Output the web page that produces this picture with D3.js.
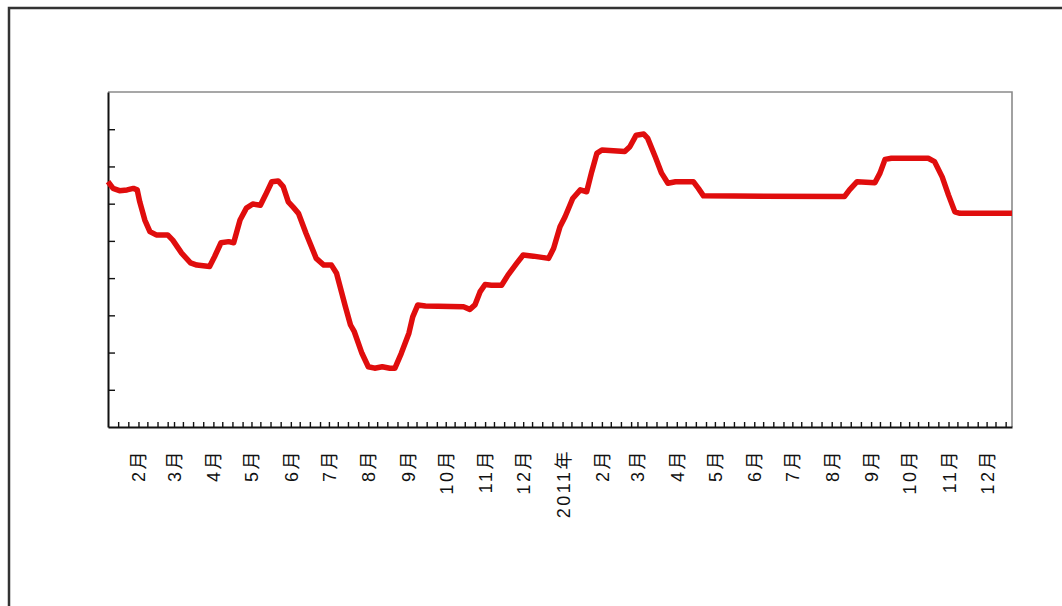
<!DOCTYPE html>
<html>
<head>
<meta charset="utf-8">
<script src="https://cdn.jsdelivr.net/npm/d3@7"></script>
<style>
  html, body { margin: 0; padding: 0; background: #fff; }
  svg { display: block; }
</style>
</head>
<body>
<svg id="chart" width="1062" height="606"></svg>
<script>
// ---- data (y values in chart units, 9 units = full height) ----
const dates = [
  "2010-01-08","2010-01-12","2010-01-17","2010-01-23","2010-01-28","2010-01-31",
  "2010-02-02","2010-02-06","2010-02-10","2010-02-15","2010-02-24","2010-02-28",
  "2010-03-07","2010-03-14","2010-03-19","2010-03-29","2010-04-02","2010-04-07",
  "2010-04-13","2010-04-17","2010-04-22","2010-04-27","2010-05-02","2010-05-08",
  "2010-05-12","2010-05-17","2010-05-22","2010-05-26","2010-05-30","2010-06-03",
  "2010-06-07","2010-06-13","2010-06-21","2010-06-27","2010-07-03","2010-07-07",
  "2010-07-14","2010-07-18","2010-07-21","2010-07-27","2010-08-01","2010-08-06",
  "2010-08-12","2010-08-18","2010-08-22","2010-08-27","2010-09-02","2010-09-05",
  "2010-09-09","2010-09-15","2010-10-15","2010-10-20","2010-10-24","2010-10-28",
  "2010-11-01","2010-11-06","2010-11-14","2010-11-19","2010-11-26","2010-12-01",
  "2010-12-09","2010-12-21","2010-12-25","2010-12-30","2011-01-03","2011-01-09",
  "2011-01-15","2011-01-20","2011-01-24","2011-01-28","2011-02-01","2011-02-19",
  "2011-02-23","2011-02-28","2011-03-06","2011-03-09","2011-03-15","2011-03-20",
  "2011-03-25","2011-03-31","2011-04-14","2011-04-18","2011-04-22","2011-08-11",
  "2011-08-15","2011-08-21","2011-09-04","2011-09-08","2011-09-12","2011-09-17",
  "2011-10-16","2011-10-21","2011-10-27","2011-11-01","2011-11-06","2011-11-10",
  "2011-12-21"
];
const values = [
  6.59,6.41,6.35,6.37,6.41,6.37,
  6.05,5.56,5.25,5.16,5.16,5.02,
  4.67,4.41,4.35,4.31,4.58,4.95,
  4.98,4.95,5.56,5.88,5.99,5.96,
  6.23,6.59,6.61,6.46,6.05,5.90,
  5.74,5.20,4.53,4.35,4.35,4.13,
  3.23,2.74,2.56,1.98,1.62,1.58,
  1.62,1.58,1.58,1.98,2.52,2.96,
  3.28,3.25,3.23,3.16,3.28,3.63,
  3.83,3.81,3.81,4.08,4.40,4.62,
  4.59,4.53,4.80,5.38,5.65,6.14,
  6.37,6.32,6.86,7.35,7.44,7.40,
  7.53,7.84,7.87,7.76,7.26,6.82,
  6.55,6.59,6.59,6.41,6.21,6.19,
  6.37,6.59,6.56,6.82,7.19,7.22,
  7.22,7.13,6.72,6.23,5.78,5.74,
  5.74
];
const xDomain = ["2010-01-08", "2011-12-21"];
const yDomain = [0, 9];
const yTickValues = [1, 2, 3, 4, 5, 6, 7, 8];
const monthLabels = ["1月","2月","3月","4月","5月","6月","7月","8月","9月","10月","11月","12月"];
const yearSuffix = "年";

(function () {
  const svg = d3.select("#chart");
  const mLeft = 108, mRight = 1012, mTop = 92, mBottom = 427;
  const parse = d3.utcParse("%Y-%m-%d");

  const x = d3.scaleUtc().domain(xDomain.map(parse)).range([mLeft, mRight]);
  const y = d3.scaleLinear().domain(yDomain).range([mBottom, mTop]);

  // outer frame (left + top visible)
  svg.append("path")
    .attr("d", "M9,606 L9,8 L1062,8")
    .attr("fill", "none")
    .attr("stroke", "#333")
    .attr("stroke-width", 2.5);

  // plot frame: top + right grey
  svg.append("path")
    .attr("d", `M${mLeft},${mTop} L${mRight},${mTop} L${mRight},${mBottom}`)
    .attr("fill", "none")
    .attr("stroke", "#8a8a8a")
    .attr("stroke-width", 1.6);

  // minor x ticks: days 1, 8, 16, 24 of each month
  const [d0, d1] = x.domain();
  const minorTicks = [];
  d3.utcMonths(d3.utcMonth.floor(d0), d3.utcMonth.offset(d1, 1)).forEach(m => {
    [1, 8, 16, 24].forEach(day => {
      const t = new Date(Date.UTC(m.getUTCFullYear(), m.getUTCMonth(), day));
      if (t > d0 && t < d1) minorTicks.push(t);
    });
  });

  const xAxis = d3.axisBottom(x).tickValues(minorTicks).tickSize(-5).tickSizeOuter(0).tickFormat("");
  const gx = svg.append("g").attr("transform", `translate(0,${mBottom})`).call(xAxis);
  gx.select(".domain").attr("stroke", "#111").attr("stroke-width", 2);
  gx.selectAll(".tick line").attr("stroke", "#111").attr("stroke-width", 1.4);

  // y axis with inward ticks, no labels
  const yAxis = d3.axisLeft(y).tickValues(yTickValues).tickSize(-7).tickSizeOuter(0).tickFormat("");
  const gy = svg.append("g").attr("transform", `translate(${mLeft},0)`).call(yAxis);
  gy.select(".domain").attr("stroke", "#111").attr("stroke-width", 2);
  gy.selectAll(".tick line").attr("stroke", "#111").attr("stroke-width", 1.4);

  // month labels (rotated)
  const months = d3.utcMonths(d3.utcMonth.ceil(d0), d1);
  svg.append("g").selectAll("text")
    .data(months)
    .join("text")
    .attr("transform", d => `translate(${x(d) + 1},449) rotate(-90)`)
    .attr("text-anchor", "end")
    .attr("dominant-baseline", "central")
    .attr("font-family", "'Liberation Sans', 'Noto Sans CJK SC', sans-serif")
    .attr("font-size", 18)
    .attr("letter-spacing", 2.5)
    .attr("fill", "#111")
    .text(d => d.getUTCMonth() === 0 ? d.getUTCFullYear() + yearSuffix : monthLabels[d.getUTCMonth()]);

  // line
  const data = dates.map((d, i) => ({ date: parse(d), value: values[i] }));
  const line = d3.line().x(d => x(d.date)).y(d => y(d.value));
  svg.append("path")
    .datum(data)
    .attr("d", line)
    .attr("fill", "none")
    .attr("stroke", "#e00d0d")
    .attr("stroke-width", 5.5)
    .attr("stroke-linejoin", "round")
    .attr("stroke-linecap", "butt");
})();
</script>
</body>
</html>
